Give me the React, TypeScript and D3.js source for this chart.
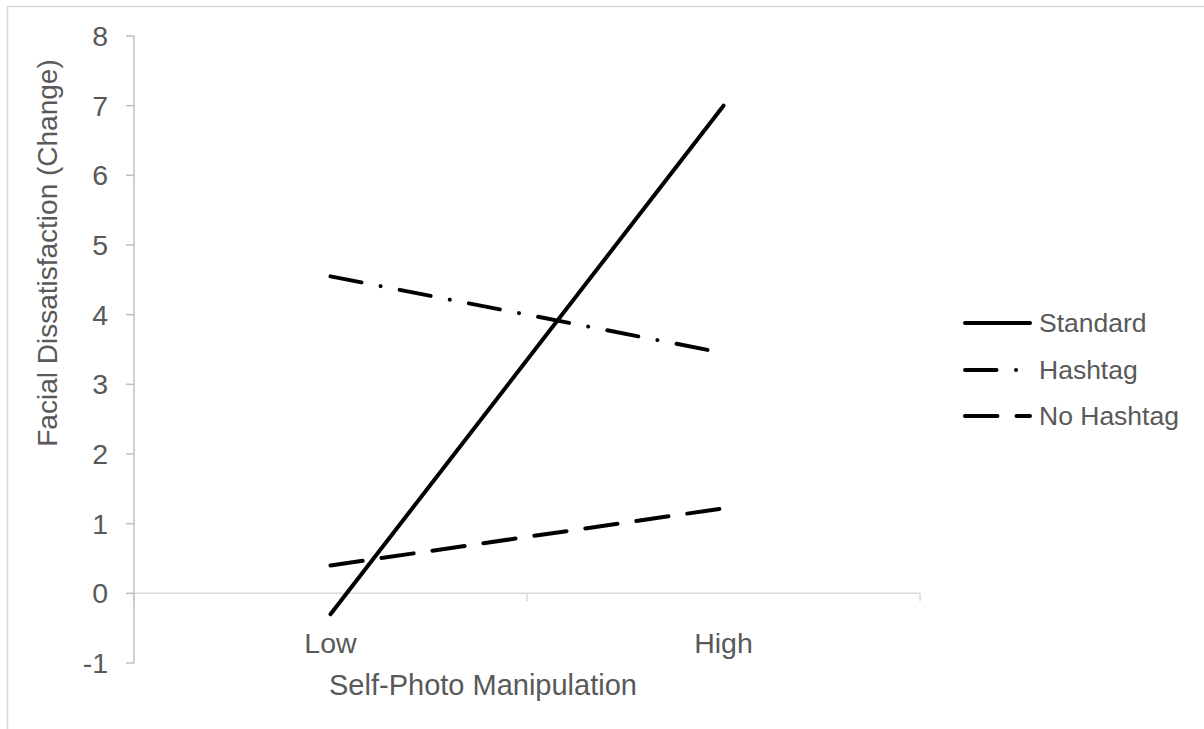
import React from "react";
import * as d3 from "d3";

const categories = ["Low", "High"];
const seriesNames = ["Standard", "Hashtag", "No Hashtag"];
const standardValues = [-0.3, 7.0];
const hashtagValues = [4.55, 3.45];
const noHashtagValues = [0.4, 1.22];
const yTicks = [-1, 0, 1, 2, 3, 4, 5, 6, 7, 8];
const xTitle = "Self-Photo Manipulation";
const yTitle = "Facial Dissatisfaction (Change)";

const W = 1204;
const H = 729;
const FONT = "'Liberation Sans', Arial, sans-serif";
const TEXT = "#595959";

const dashes: Record<string, string | undefined> = {
  Standard: undefined,
  Hashtag: "31.5 19.5 0.01 19.5",
  "No Hashtag": "32.5 19",
};

export default function App() {
  const x = d3.scaleBand<string>().domain(categories).range([134, 920]).padding(0);
  const y = d3.scaleLinear().domain([-1, 8]).range([663, 36]);
  const cx = (c: string) => (x(c) as number) + x.bandwidth() / 2;

  const series = [
    { name: seriesNames[0], values: standardValues },
    { name: seriesNames[1], values: hashtagValues },
    { name: seriesNames[2], values: noHashtagValues },
  ];

  const line = d3
    .line<number>()
    .x((_, i) => cx(categories[i]))
    .y((d) => y(d));

  const xBoundaries = [134, ...categories.map((c) => (x(c) as number) + x.bandwidth())];
  const legendY = [323, 370, 416];

  return (
    <svg
      width={W}
      height={H}
      style={{ position: "absolute", left: 0, top: 0, background: "#fff" }}
      fontFamily={FONT}
    >
      <rect x={7.5} y={6.5} width={W + 20} height={H + 20} fill="#fff" stroke="#d9d9d9" strokeWidth={1.5} />

      {/* x axis */}
      <line x1={134} x2={920} y1={y(0)} y2={y(0)} stroke="#d9d9d9" strokeWidth={1.5} />
      {xBoundaries.map((b, i) => (
        <line key={i} x1={b} x2={b} y1={y(0)} y2={y(0) + 8} stroke="#d9d9d9" strokeWidth={1.5} />
      ))}

      {/* y axis */}
      <line x1={134} x2={134} y1={y(8)} y2={y(-1)} stroke="#bfbfbf" strokeWidth={1.5} />
      {yTicks.map((t) => (
        <g key={t}>
          <line x1={126} x2={134} y1={y(t)} y2={y(t)} stroke="#bfbfbf" strokeWidth={1.5} />
          <text x={108} y={y(t)} dy="0.35em" textAnchor="end" fontSize={28.5} fill={TEXT}>
            {t}
          </text>
        </g>
      ))}

      {categories.map((c) => (
        <text key={c} x={cx(c)} y={653} textAnchor="middle" fontSize={28.5} fill={TEXT}>
          {c}
        </text>
      ))}

      <text x={483} y={695} textAnchor="middle" fontSize={29} fill={TEXT}>
        {xTitle}
      </text>
      <text
        transform={`translate(57, 253) rotate(-90)`}
        textAnchor="middle"
        fontSize={28}
        fill={TEXT}
      >
        {yTitle}
      </text>

      {series.map((s) => (
        <path
          key={s.name}
          d={line(s.values) || ""}
          fill="none"
          stroke="#000"
          strokeWidth={4}
          strokeLinecap="round"
          strokeDasharray={dashes[s.name]}
        />
      ))}

      {series.map((s, i) => (
        <g key={s.name}>
          <line
            x1={965}
            x2={1030}
            y1={legendY[i]}
            y2={legendY[i]}
            stroke="#000"
            strokeWidth={4}
            strokeLinecap="round"
            strokeDasharray={dashes[s.name]}
          />
          <text x={1039} y={legendY[i]} dy="0.35em" fontSize={26.5} fill={TEXT}>
            {s.name}
          </text>
        </g>
      ))}
    </svg>
  );
}
